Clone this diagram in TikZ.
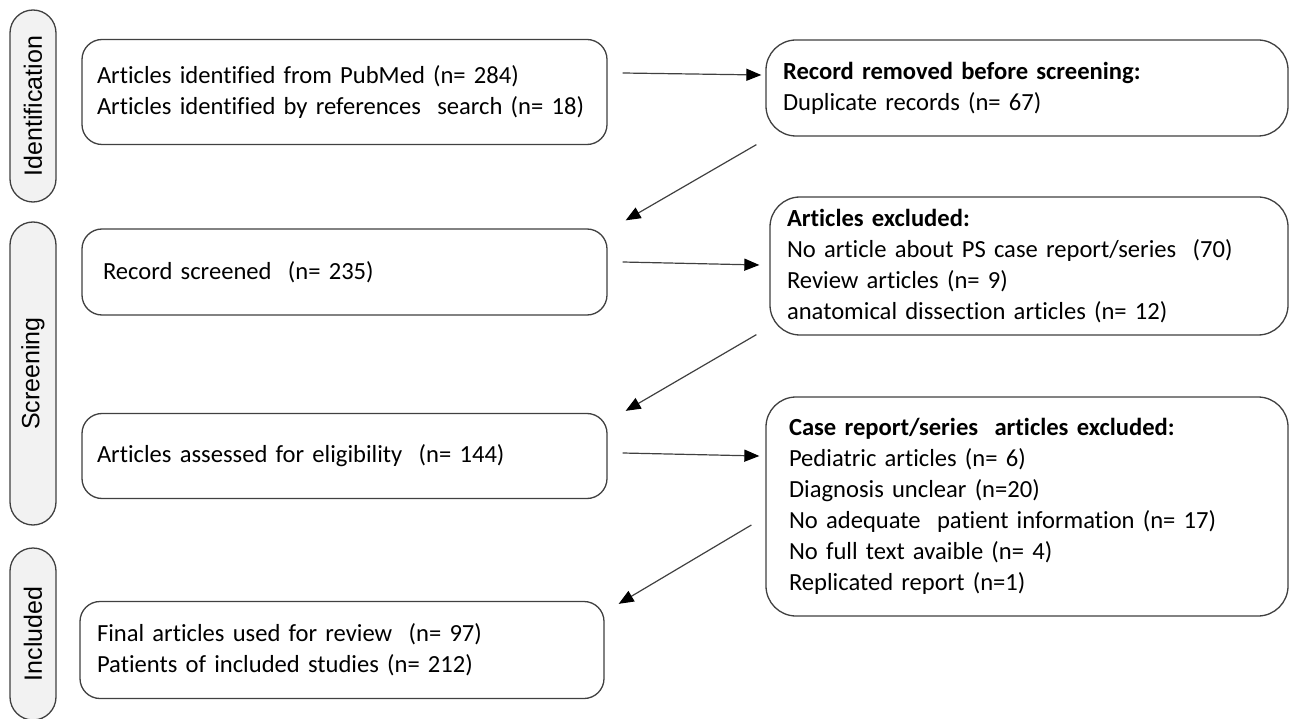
\documentclass[tikz,border=0pt]{standalone}
\usepackage{fontspec}
\setmainfont{Carlito}[Ligatures=NoCommon]
\newfontfamily\arialfont{Liberation Sans}
\usetikzlibrary{arrows.meta,calc}
\definecolor{flowLine}{HTML}{404040}
\definecolor{flowStage}{HTML}{F2F2F2}

\begin{document}
\begin{tikzpicture}[
  x=1pt,y=-1pt,
  stage/.style={draw=flowLine,line width=1.3pt,fill=flowStage,rounded corners=23pt,rotate=90,minimum height=46pt,inner sep=0pt,font=\arialfont\fontsize{25}{30}\selectfont},
  record/.style={draw=flowLine,line width=1.3pt,fill=white,rounded corners=20pt,minimum width=525pt,inner xsep=15pt,text width=495pt,align=left,font=\fontsize{24.6}{31}\selectfont},
  excluded/.style={draw=flowLine,line width=1.3pt,fill=white,rounded corners=30pt,minimum width=522pt,inner xsep=17pt,text width=488pt,align=left,font=\fontsize{24.6}{31}\selectfont},
  link/.style={-{Triangle[length=15pt,width=12pt,color=black]},line width=1.2pt,draw=flowLine}
]
\useasboundingbox (0,0) rectangle (1290,719);

% Phases
\node[stage,minimum width=192pt] (identification) at (33,106) {Identification};
\node[stage,minimum width=303pt] (screening) at (33,373.5) {Screening};
\node[stage,minimum width=172pt] (included) at (33,634) {Included};

% Main records
\node[record,minimum height=105pt] (ident) at (344.5,92) {Articles identified from PubMed (n= 284)\\Articles identified by references \ search (n= 18)};
\node[record,minimum height=86pt,inner xsep=21pt,text width=483pt] (screen) at (344.5,272) {Record screened \ (n= 235)};
\node[record,minimum height=85pt] (elig) at (344.5,456) {Articles assessed for eligibility \ (n= 144)};
\node[record,minimum width=524pt,minimum height=97pt,inner xsep=17pt,text width=490pt] (final) at (342,650) {Final articles used for review \ (n= 97)\\Patients of included studies (n= 212)};

% Exclusions
\node[excluded,minimum height=96pt] (removed) at (1027,88) {\textbf{Record removed before screening:}\\Duplicate records (n= 67)};
\node[excluded,minimum width=518pt,minimum height=138pt,text width=484pt] (artexcl) at (1029,266) {\textbf{Articles excluded:}\\No article about PS case report/series \ (70)\\Review articles (n= 9)\\anatomical dissection articles (n= 12)};
\node[excluded,minimum height=219pt,inner xsep=23pt,text width=476pt] (caseexcl) at (1027,506.5) {\textbf{Case report/series \ articles excluded:}\\Pediatric articles (n= 6)\\Diagnosis unclear (n=20)\\No adequate \ patient information (n= 17)\\No full text avaible (n= 4)\\Replicated report (n=1)};

\draw[link] ($(ident.east)+(15,-19)$) -- ($(removed.west)+(-4,-13)$);
\draw[link] ($(removed.south west)+(-9,8)$) -- ($(screen.north east)+(18,-8)$);
\draw[link] ($(screen.east)+(15,-10)$) -- ($(artexcl.west)+(-10,-1)$);
\draw[link] ($(artexcl.south west)+(-13,-1)$) -- ($(elig.north east)+(18,-2)$);
\draw[link] ($(elig.east)+(15,-3)$) -- ($(caseexcl.west)+(-6,-50.5)$);
\draw[link] ($(caseexcl.west)+(-14,18.5)$) -- ($(final.north east)+(14,3)$);
\end{tikzpicture}
\end{document}
